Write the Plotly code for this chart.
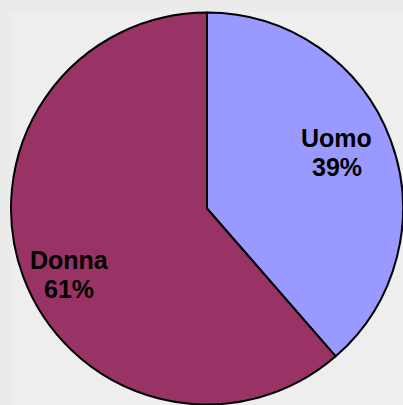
import math
import plotly.graph_objects as go

labels = ["Uomo", "Donna"]
values = [38.6, 61.4]
colors = ["#9999FF", "#993366"]

# label placement style (radius fraction of the pie, angular shift in degrees, pixel nudge)
label_radius = [0.72, 0.78]
label_shift = -4.0
label_nudge = (1.5, -3)
line_pitch = 29
font = dict(family="Liberation Sans, Arial, sans-serif", size=25, color="#000000", weight="bold")

W, H = 403, 405
ML, MT, MR, MB = 11, 12, 0, 0
pw, ph = W - ML - MR, H - MT - MB
R = min(pw, ph) / 2

fig = go.Figure(go.Pie(
    labels=labels,
    values=values,
    sort=False,
    direction="clockwise",
    rotation=0,
    marker=dict(colors=colors, line=dict(color="#000000", width=2)),
    textinfo="none",
    showlegend=False,
    hoverinfo="label+percent",
))

total = sum(values)
annotations = []
cum = 0
for lab, v, f in zip(labels, values, label_radius):
    mid = (cum + v / 2) / total * 360 + label_shift
    cum += v
    th = math.radians(mid)
    px = R * f * math.sin(th) + label_nudge[0]
    py = R * f * math.cos(th) + label_nudge[1]  # up positive
    x = 0.5 + px / pw
    pct = int(v / total * 100 + 0.5)
    for txt, dy in ((lab, line_pitch / 2), (f"{pct}%", -line_pitch / 2)):
        y = 0.5 + (py + dy) / ph
        annotations.append(dict(x=x, y=y, xref="paper", yref="paper", text=txt,
                                showarrow=False, xanchor="center", yanchor="middle",
                                font=font))

fig.update_layout(
    width=W,
    height=H,
    margin=dict(l=ML, r=MR, t=MT, b=MB),
    paper_bgcolor="#EBEBEB",
    shapes=[dict(type="rect", xref="paper", yref="paper", x0=0, x1=1, y0=0, y1=1,
                 fillcolor="#EEEEEE", line=dict(width=0), layer="below")],
    annotations=annotations,
)

fig.write_html("out.html", config={"displayModeBar": False},
               post_script="document.body.style.margin='0';document.body.style.overflow='hidden';document.body.style.background='#EBEBEB';")
